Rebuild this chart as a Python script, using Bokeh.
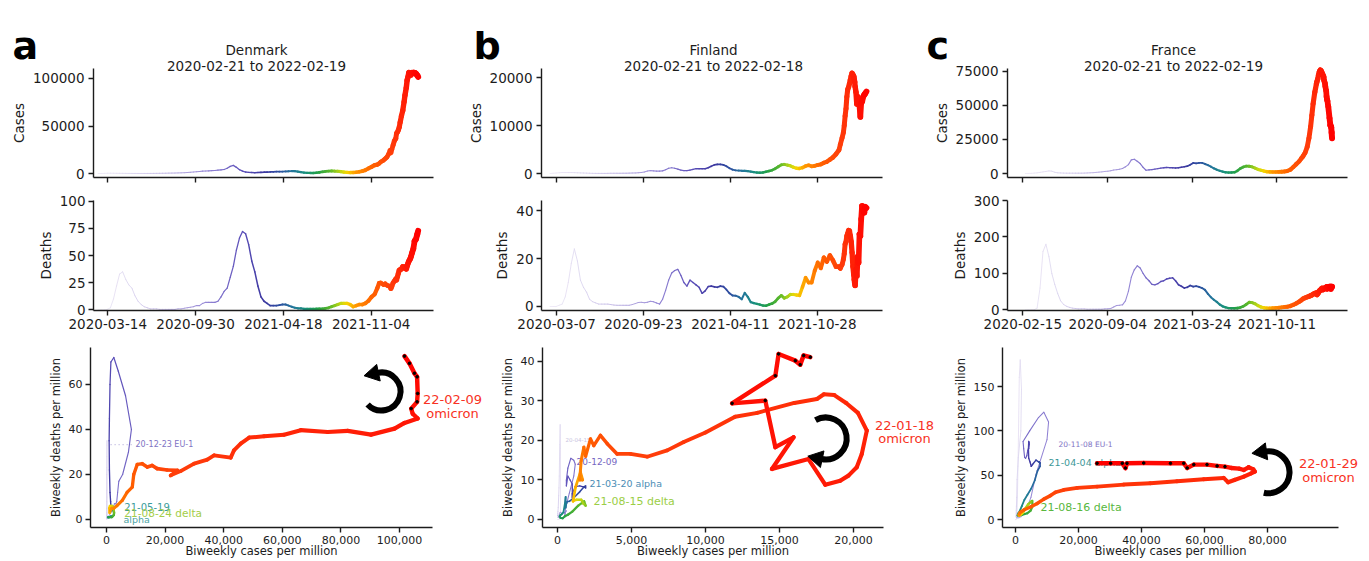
import numpy as np
import pandas as pd
from bokeh.plotting import figure
from bokeh.layouts import row, column
from bokeh.models import (Range1d, FixedTicker, DatetimeTickFormatter,
                          NumeralTickFormatter, Label, ColumnDataSource)
from bokeh.core.properties import value
from bokeh.embed import file_html
from bokeh.resources import INLINE

# ------------------------------------------------------------------ data
start_date = "2020-02-21"
last_day = 729

countries = ["Denmark", "Finland", "France"]
panel_letters = ["a", "b", "c"]
date_spans = ["2020-02-21 to 2022-02-19", "2020-02-21 to 2022-02-18",
              "2020-02-21 to 2022-02-19"]

# Denmark: weekly values from 2020-02-21, then denser values late in the period
dk_weekly_cases = [0, 10, 100, 250, 300, 250, 200, 150, 150, 100,
                   80, 60, 50, 40, 40, 50, 60, 80, 100, 150,
                   200, 250, 300, 400, 450, 500, 600, 700, 800, 1000,
                   1200, 1500, 1800, 2200, 2500, 2700, 2800, 3000, 3200, 3500,
                   3800, 4200, 5500, 7500, 8500, 6500, 4000, 2500, 1500, 1200,
                   1000, 900, 1000, 1200, 1400, 1500, 1600, 1800, 2000, 1900,
                   2000, 2200, 2300, 2500, 2500, 2000, 1500, 1000, 700, 600,
                   500, 800, 1200, 1800, 2200, 2500, 2600, 2500, 2400, 2000,
                   1500, 1200, 1000, 1100, 1300, 1800]
dk_weekly_deaths = [0, 0, 0, 0.5, 2, 10, 22, 33, 35, 28,
                    23, 20, 13, 8, 5, 3, 2, 1, 1, 1,
                    0.5, 0.5, 0.5, 0.5, 0.5, 0.5, 1, 1, 1.5, 2,
                    2.5, 3, 4, 4, 6, 7, 7, 7, 7, 8,
                    12, 17, 20, 30, 40, 55, 66, 72, 70, 60,
                    45, 35, 22, 12, 8, 6, 4, 4, 4, 4.5,
                    5, 5, 4, 3, 2, 1.5, 1.5, 1, 1, 1,
                    1, 1, 1, 1, 1.5, 2, 3, 4, 5, 6,
                    6, 6, 5, 3, 4, 5]
dk_late_day = [602, 609, 616, 623, 630, 636, 640, 644, 650, 654,
               658, 662, 665, 667, 669, 672, 675, 678, 680, 682,
               684, 686, 688, 691, 694, 697, 699, 702, 704, 706,
               708, 711, 713, 715, 718, 721, 724, 727, 729]
dk_late_cases = [2500, 3600, 5400, 7000, 8800, 9300, 10500, 12200, 13900, 15600,
                 17300, 20700, 24200, 21900, 25300, 29900, 34400, 36700, 42400, 43500,
                 45800, 48700, 53800, 60600, 66300, 75500, 82300, 90300, 98300, 101700,
                 106200, 104500, 104000, 106000, 106200, 106000, 105100, 103400, 101700]
dk_late_deaths = [5, 6.2, 8.5, 12, 14.4, 20, 24.5, 24.8, 23.3, 24,
                  22.6, 22, 21.8, 19.6, 21.5, 24.8, 26.6, 28.5, 27.5, 30.7,
                  33.7, 36.4, 37, 37.7, 39.7, 38.9, 39.4, 37.7, 40.4, 42.9,
                  44.9, 47, 49.3, 52.3, 56, 63.4, 65, 69.4, 72.6]

# Finland
fi_weekly_cases = [0, 50, 100, 150, 200, 200, 200, 200, 180, 150,
                   120, 100, 80, 50, 30, 20, 20, 20, 20, 30,
                   50, 50, 50, 50, 60, 60, 80, 100, 120, 150,
                   200, 300, 500, 600, 550, 500, 500, 550, 800, 1100,
                   1200, 1100, 900, 700, 600, 600, 700, 850, 1000, 1000,
                   1000, 1000, 1200, 1500, 1800, 1900, 1900, 1800, 1500, 1100,
                   800, 650, 600, 550, 550, 500, 400, 300, 200, 150,
                   200, 350, 500, 700, 1000, 1400, 1800, 1900, 1750, 1600,
                   1300, 1100]
fi_weekly_deaths = [0, 0, 0, 0.5, 1, 4, 10, 18, 24, 19,
                    11, 8, 6, 3, 2, 1.5, 1, 1, 1, 1,
                    0.8, 0.6, 0.5, 0.5, 0.5, 0.5, 0.5, 0.8, 1.2, 1.7,
                    1.8, 1.6, 1.8, 2.2, 2, 1.5, 1, 3, 6.7, 11,
                    14, 15, 15.5, 13, 10, 8.5, 11, 10, 9, 8,
                    5.5, 6.5, 8.3, 8.5, 8.2, 8, 8.5, 8.3, 7, 5.5,
                    4.6, 4.5, 4, 3, 5.7, 4, 1.8, 1.4, 1.1, 0.8,
                    0.4, 0.3, 0.8, 1.2, 2, 3.5, 4.6, 3.5, 4, 5,
                    5, 4.8]
fi_late_day = [574, 581, 588, 595, 602, 609, 616, 623, 630, 637,
               644, 651, 658, 665, 668, 672, 675, 677, 679, 681,
               683, 685, 687, 689, 691, 693, 695, 697, 699, 700,
               701, 702, 704, 706, 708, 710, 712, 714, 716, 718,
               721, 723, 725, 728]
fi_late_cases = [1050, 1220, 1550, 1700, 1500, 1600, 1780, 1900, 2230, 2450,
                 2900, 3360, 4030, 4930, 6060, 7410, 8530, 10000, 12000, 13500,
                 16000, 17530, 18000, 18700, 19500, 20300, 20900, 20560, 20220, 19660,
                 19100, 18090, 16960, 14490, 15950, 14720, 14040, 11800, 14720, 14940,
                 16070, 16400, 16630, 17080]
fi_late_deaths = [4.6, 8.2, 12, 10, 10, 14.9, 18.3, 16, 20.4, 18.7,
                  21.3, 19.2, 16.6, 16.6, 15.9, 17.5, 19.6, 22, 26, 27,
                  29.5, 30.5, 31.7, 31.5, 29.5, 27, 22.5, 16.6, 13.2, 11.1,
                  9.8, 8.8, 15.3, 12.8, 20.8, 18.3, 30.1, 29.4, 36.4, 41.9,
                  40.2, 39.2, 41.5, 41.1]

# France
fr_weekly_cases = [0, 50, 100, 300, 500, 800, 1200, 1500, 1900, 1700,
                   900, 500, 400, 300, 250, 250, 250, 250, 250, 250,
                   300, 400, 500, 600, 800, 1000, 1200, 1500, 1700, 2000,
                   2500, 2800, 3200, 3700, 4900, 6500, 10000, 10500, 9000, 7300,
                   4500, 2400, 2600, 2900, 3200, 3600, 3900, 4200, 4400, 4300,
                   4200, 4100, 4200, 4600, 5000, 5400, 6500, 7800, 7500, 7800,
                   7800, 7000, 6100, 5000, 3800, 2800, 2000, 1400, 900, 700,
                   700, 900, 2000, 3700, 4800, 5400, 5300, 4900, 4000, 3000,
                   2400, 1800, 1300, 1200, 1100, 1100, 1200, 1300, 1500, 1900]
fr_weekly_deaths = [0, 0, 0, 0.5, 5, 60, 160, 180, 147, 100,
                    70, 45, 25, 15, 10, 7, 5, 4, 3, 3,
                    3, 2, 2, 2, 2, 2, 2, 3, 3, 4,
                    8, 12, 13, 14, 25, 51, 90, 110, 121, 115,
                    100, 88, 80, 70, 69, 72, 78, 80, 85, 87,
                    88, 80, 69, 65, 60, 62, 67, 64, 65, 63,
                    60, 55, 44, 35, 28, 22, 15, 10, 7, 5,
                    4.6, 4.5, 5, 7, 10, 15, 21, 20, 17, 12,
                    8, 6, 5, 4.6, 5, 5.5, 6, 7, 8, 9]
fr_late_day = [630, 637, 644, 651, 656, 660, 665, 670, 674, 678,
               681, 684, 688, 692, 693, 695, 697, 699, 701, 703,
               705, 707, 709, 710, 712, 713, 715, 716, 717, 718,
               720, 723, 725, 726, 727, 728, 729]
fr_late_cases = [2800, 4760, 6880, 9000, 11100, 12700, 15300, 19600, 25900, 34400,
                 42800, 51300, 59800, 66100, 67500, 69500, 72500, 74800, 76000, 75500,
                 74000, 72500, 71000, 68500, 66500, 64000, 60800, 56600, 54500, 53400,
                 49200, 40700, 35400, 34900, 33900, 30200, 25900]
fr_late_deaths = [11, 14, 18, 23, 27, 30.7, 33.4, 35.6, 37.1, 39.4,
                  40.9, 43.1, 45.4, 46.9, 42, 44.6, 48.4, 52.1, 54, 56.6,
                  58.9, 55.9, 57.4, 58.1, 59.6, 60.4, 61.9, 61.9, 58.1, 63.4,
                  63.4, 63.7, 63.4, 58.1, 63.4, 63.4, 63.4]

# tick labels
date_ticks = [["2020-03-14", "2020-09-30", "2021-04-18", "2021-11-04"],
              ["2020-03-07", "2020-09-23", "2021-04-11", "2021-10-28"],
              ["2020-02-15", "2020-09-04", "2021-03-24", "2021-10-11"]]
case_ticks = [[0, 50000, 100000], [0, 10000, 20000], [0, 25000, 50000, 75000]]
death_ticks = [[0, 25, 50, 75, 100], [0, 20, 40], [0, 100, 200, 300]]
phase_x_ticks = [[0, 20000, 40000, 60000, 80000, 100000],
                 [0, 5000, 10000, 15000, 20000],
                 [0, 20000, 40000, 60000, 80000]]
phase_y_ticks = [[0, 20, 40, 60], [0, 10, 20, 30, 40], [0, 50, 100, 150]]

# wave annotations (text, cases, deaths)
dk_notes = [("20-12-23 EU-1", 9900, 33.3), ("21-05-19", 6100, 5.6),
            ("21-08-24 delta", 6100, 2.9), ("alpha", 5800, 0.1)]
fi_notes = [("20-04-15", 540, 20.3), ("20-12-09", 1280, 14.7),
            ("21-03-20 alpha", 2160, 9.1), ("21-08-15 delta", 2430, 4.6)]
fr_notes = [("20-11-08 EU-1", 13650, 84.4), ("21-04-04 alpha", 10500, 64.4),
            ("21-08-16 delta", 7900, 13.3)]
omicron_notes = ["22-02-09", "22-01-18", "22-01-29"]

# ------------------------------------------------------------------ style / layout
FONT = "DejaVu Sans"
INK = "#1c1c1c"
OMI_RED = "#f83224"
# rows: canvas top, canvas bottom, axes top, axes bottom (page pixels)
ROWS = {"cases": (0, 185, 68, 177), "deaths": (185, 336, 200, 310),
        "phase": (336, 561, 347, 527)}

note_styles = [
    [("8px", "#8073c4"), ("10px", "#3a9c9c"), ("10.5px", "#a3cd48"), ("9.5px", "#4aa3a3")],
    [("5.5px", "#c9c3e0"), ("9px", "#7566c2"), ("9.5px", "#4b8db5"), ("11px", "#9bce45")],
    [("7.5px", "#8073c4"), ("9.5px", "#3d9898"), ("11px", "#58b73e")],
]

cols = [
    dict(left=0, right=459, ph_left=0, ph_right=486,
         ts_fl=93, ts_fr=433, ph_fl=90, ph_fr=432, days=(-10.5, 764),
         cases_rng=(-4210, 110526), deaths_rng=(-0.5, 100.5),
         ph_x=(-5460, 111260), ph_y=(-3.56, 76.44), title_x=256, letter_x=12,
         omi=(452, 399, 413), arrow=(93860, 56.9, 19, 223, 102, "anticlock")),
    dict(left=459, right=910, ph_left=486, ph_right=938,
         ts_fl=541, ts_fr=882, ph_fl=542, ph_fr=883, days=(-19.6, 765),
         cases_rng=(-833, 21875), deaths_rng=(-1.67, 44.2),
         ph_x=(-1014, 22027), ph_y=(-2.03, 43.54), title_x=713, letter_x=473,
         omi=(904, 425, 438), arrow=(18120, 20.5, 21, 119, 258, "clock")),
    dict(left=910, right=1369, ph_left=938, ph_right=1369,
         ts_fl=1007, ts_fr=1347, ph_fl=1002, ph_fr=1338, days=(-42.3, 765.7),
         cases_rng=(-2940, 77200), deaths_rng=(-1.5, 300),
         ph_x=(-4127, 102540), ph_y=(-9.02, 194), title_x=1173, letter_x=926,
         omi=(1328, 463, 477), arrow=(80330, 53.3, 21, 257, 98, "anticlock")),
]

STOPS = [(0.00, (215, 205, 235)), (0.20, (170, 155, 218)), (0.35, (128, 112, 205)),
         (0.45, (92, 80, 185)), (0.52, (60, 55, 160)), (0.57, (45, 80, 160)),
         (0.61, (35, 118, 155)), (0.65, (25, 145, 125)), (0.69, (35, 160, 70)),
         (0.73, (95, 185, 40)), (0.76, (190, 215, 20)), (0.78, (245, 215, 0)),
         (0.81, (255, 150, 0)), (0.86, (255, 98, 0)), (0.92, (255, 60, 10)),
         (0.97, (255, 22, 5)), (1.00, (255, 0, 0))]


def ramp(t):
    t = min(max(t, 0.0), 1.0)
    rgb = STOPS[-1][1]
    for (t0, c0), (t1, c1) in zip(STOPS[:-1], STOPS[1:]):
        if t <= t1:
            f = (t - t0) / (t1 - t0)
            rgb = [c0[k] + f * (c1[k] - c0[k]) for k in range(3)]
            break
    a = min(1.0, 0.42 + 1.3 * t)
    rgb = [v * a + 255 * (1 - a) for v in rgb]
    return "#%02x%02x%02x" % tuple(int(round(v)) for v in rgb)


def ms(day):
    return (pd.Timestamp(start_date) + pd.Timedelta(days=float(day))).value / 1e6


def ms_date(s):
    return pd.Timestamp(s).value / 1e6


def style_axis(ax, tick_fs, label_fs, standoff, label_standoff):
    ax.axis_line_color = INK
    ax.axis_line_width = 1.4
    ax.major_tick_line_color = INK
    ax.major_tick_line_width = 1.4
    ax.major_tick_out = 5
    ax.major_tick_in = 0
    ax.minor_tick_line_color = None
    ax.major_label_text_font = FONT
    ax.major_label_text_font_size = tick_fs
    ax.major_label_text_color = INK
    ax.major_label_standoff = standoff
    ax.axis_label_text_font = FONT
    ax.axis_label_text_font_size = label_fs
    ax.axis_label_text_font_style = "normal"
    ax.axis_label_text_color = INK
    ax.axis_label_standoff = label_standoff


def make_fig(c, kind, xlim, ylim, x_type="linear"):
    """Canvas covers the whole cell; the axes are pinned where the panel's axes sit."""
    top, bot, ft, fb = ROWS[kind]
    if kind == "phase":
        fl, fr, cl, cr = c["ph_fl"], c["ph_fr"], c["ph_left"], c["ph_right"]
    else:
        fl, fr, cl, cr = c["ts_fl"], c["ts_fr"], c["left"], c["right"]
    x0, x1 = xlim
    y0, y1 = ylim
    kx = (x1 - x0) / (fr - fl)
    ky = (y1 - y0) / (fb - ft)
    xr = Range1d(x0 - (fl - cl) * kx, x1 + (cr - fr) * kx)
    yr = Range1d(y0 - (bot - fb) * ky, y1 + (ft - top) * ky)
    p = figure(width=cr - cl, height=bot - top, x_range=xr, y_range=yr,
               x_axis_type=x_type, output_backend="svg", toolbar_location=None,
               min_border_left=0, min_border_right=0, min_border_top=0,
               min_border_bottom=0)
    if p.title is not None:
        p.title.visible = False
    p.outline_line_color = None
    p.xgrid.visible = False
    p.ygrid.visible = False
    p.background_fill_color = "white"
    p.border_fill_color = "white"
    p.xaxis[0].fixed_location = y0
    p.xaxis[0].bounds = (x0, x1)
    p.yaxis[0].fixed_location = x0
    p.yaxis[0].bounds = (y0, y1)
    return p, (fl, fr, x0, x1), (ft, fb, y0, y1)


def to_data(gx, gy, px, py):
    fl, fr, x0, x1 = gx
    ft, fb, y0, y1 = gy
    return (x0 + (px - fl) / (fr - fl) * (x1 - x0),
            y1 - (py - ft) / (fb - ft) * (y1 - y0))


def draw_path(p, xs, ys, days, wmax, wmin=0.9):
    xs = np.asarray(xs, float)
    ys = np.asarray(ys, float)
    t = np.asarray(days, float) / last_day
    tm = (t[:-1] + t[1:]) / 2
    src = ColumnDataSource(dict(x0=xs[:-1], y0=ys[:-1], x1=xs[1:], y1=ys[1:],
                                c=[ramp(v) for v in tm],
                                w=wmin + (wmax - wmin) * tm ** 3))
    p.segment("x0", "y0", "x1", "y1", source=src, line_color="c",
              line_width="w", line_cap="round")


def add_label(p, x, y, text, size, color, align="center", baseline="middle",
              style="normal"):
    p.add_layout(Label(x=x, y=y, text=text, text_font=FONT, text_font_size=size,
                       text_color=color, text_align=align, text_baseline=baseline,
                       text_font_style=style))


def curved_arrow(p, gx, gy, cx, cy, r, a0, a1, direction):
    p.arc(x=[cx], y=[cy], radius=r, radius_units="screen",
          start_angle=np.radians(a0), end_angle=np.radians(a1),
          direction=direction, line_color="black", line_width=6)
    sxu = (gx[1] - gx[0]) / (gx[3] - gx[2])
    syu = (gy[1] - gy[0]) / (gy[3] - gy[2])
    tang = a1 + 90 if direction == "anticlock" else a1 - 90
    hx = r * np.cos(np.radians(a1)) + 4 * np.cos(np.radians(tang))
    hy = r * np.sin(np.radians(a1)) + 4 * np.sin(np.radians(tang))
    p.scatter([cx + hx / sxu], [cy + hy / syu], marker="triangle", size=17,
              angle=np.radians(tang - 90), color="black")


datasets = [
    (dk_weekly_cases, dk_weekly_deaths, dk_late_day, dk_late_cases, dk_late_deaths, dk_notes),
    (fi_weekly_cases, fi_weekly_deaths, fi_late_day, fi_late_cases, fi_late_deaths, fi_notes),
    (fr_weekly_cases, fr_weekly_deaths, fr_late_day, fr_late_cases, fr_late_deaths, fr_notes),
]

case_figs, death_figs, phase_figs = [], [], []
for k, c in enumerate(cols):
    wc, wd, ld, lc, ldd, notes = datasets[k]
    days = [7 * i for i in range(len(wc))] + list(ld)
    cases = list(wc) + list(lc)
    deaths = list(wd) + list(ldd)
    xms = [ms(d) for d in days]
    xlim = (ms(c["days"][0]), ms(c["days"][1]))
    date_tick_ms = [ms_date(s) for s in date_ticks[k]]

    # ---- cases
    p1, g1x, g1y = make_fig(c, "cases", xlim, c["cases_rng"], "datetime")
    draw_path(p1, xms, cases, days, 6.0)
    style_axis(p1.xaxis[0], "13.5px", "13.5px", 0, 0)
    p1.xaxis[0].major_label_text_color = None
    p1.xaxis[0].ticker = FixedTicker(ticks=date_tick_ms)
    style_axis(p1.yaxis[0], "13.5px", "13.5px", 4, 3)
    p1.yaxis[0].ticker = FixedTicker(ticks=case_ticks[k])
    p1.yaxis[0].formatter = NumeralTickFormatter(format="0")
    p1.yaxis[0].axis_label = "Cases"
    tx, ty = to_data(g1x, g1y, c["title_x"], 49)
    add_label(p1, tx, ty, countries[k], "13.5px", INK)
    tx, ty = to_data(g1x, g1y, c["title_x"], 65)
    add_label(p1, tx, ty, date_spans[k], "13.5px", INK)
    lx, ly = to_data(g1x, g1y, c["letter_x"], 45)
    add_label(p1, lx, ly, panel_letters[k], "38px", "black", align="left",
              baseline="alphabetic", style="bold")
    case_figs.append(p1)

    # ---- deaths
    p2, g2x, g2y = make_fig(c, "deaths", xlim, c["deaths_rng"], "datetime")
    draw_path(p2, xms, deaths, days, 6.0)
    style_axis(p2.xaxis[0], "13.5px", "13.5px", 3, 0)
    p2.xaxis[0].ticker = FixedTicker(ticks=date_tick_ms)
    p2.xaxis[0].formatter = DatetimeTickFormatter(days="%Y-%m-%d", months="%Y-%m-%d",
                                                  years="%Y-%m-%d")
    style_axis(p2.yaxis[0], "13.5px", "13.5px", 3, 3)
    p2.yaxis[0].ticker = FixedTicker(ticks=death_ticks[k])
    p2.yaxis[0].axis_label = "Deaths"
    death_figs.append(p2)

    # ---- phase
    p3, g3x, g3y = make_fig(c, "phase", c["ph_x"], c["ph_y"])
    for (txt, nx, ny), (fs, col) in zip(notes, note_styles[k]):
        p3.text(x=[nx], y=[ny], text=[txt], text_font=value(FONT),
                text_font_size=value(fs), text_color=col, text_align="left",
                text_baseline="middle")
    if k == 0:
        p3.line([1400, 8900], [33.3, 33.3], line_color="#b9b2dd", line_width=1.2,
                line_dash="1 3")
    draw_path(p3, cases, deaths, days, 4.6)
    late = [i for i, d in enumerate(days) if d >= 712]
    p3.scatter([cases[i] for i in late], [deaths[i] for i in late], size=2.6,
               color="black")
    cx, cy, r, a0, a1, dirn = c["arrow"]
    curved_arrow(p3, g3x, g3y, cx, cy, r, a0, a1, dirn)
    px, py1, py2 = c["omi"]
    ox, oy = to_data(g3x, g3y, px, py1)
    add_label(p3, ox, oy, omicron_notes[k], "13px", OMI_RED)
    ox, oy = to_data(g3x, g3y, px, py2)
    add_label(p3, ox, oy, "omicron", "13px", OMI_RED)
    style_axis(p3.xaxis[0], "11px", "11.5px", 3, -3)
    p3.xaxis[0].ticker = FixedTicker(ticks=phase_x_ticks[k])
    p3.xaxis[0].formatter = NumeralTickFormatter(format="0,0")
    p3.xaxis[0].axis_label = "Biweekly cases per million"
    style_axis(p3.yaxis[0], "11px", "11.5px", 3, 3)
    p3.yaxis[0].ticker = FixedTicker(ticks=phase_y_ticks[k])
    p3.yaxis[0].axis_label = "Biweekly deaths per million"
    phase_figs.append(p3)

layout = column(row(*case_figs), row(*death_figs), row(*phase_figs))
open("out.html", "w").write(file_html(layout, INLINE))
